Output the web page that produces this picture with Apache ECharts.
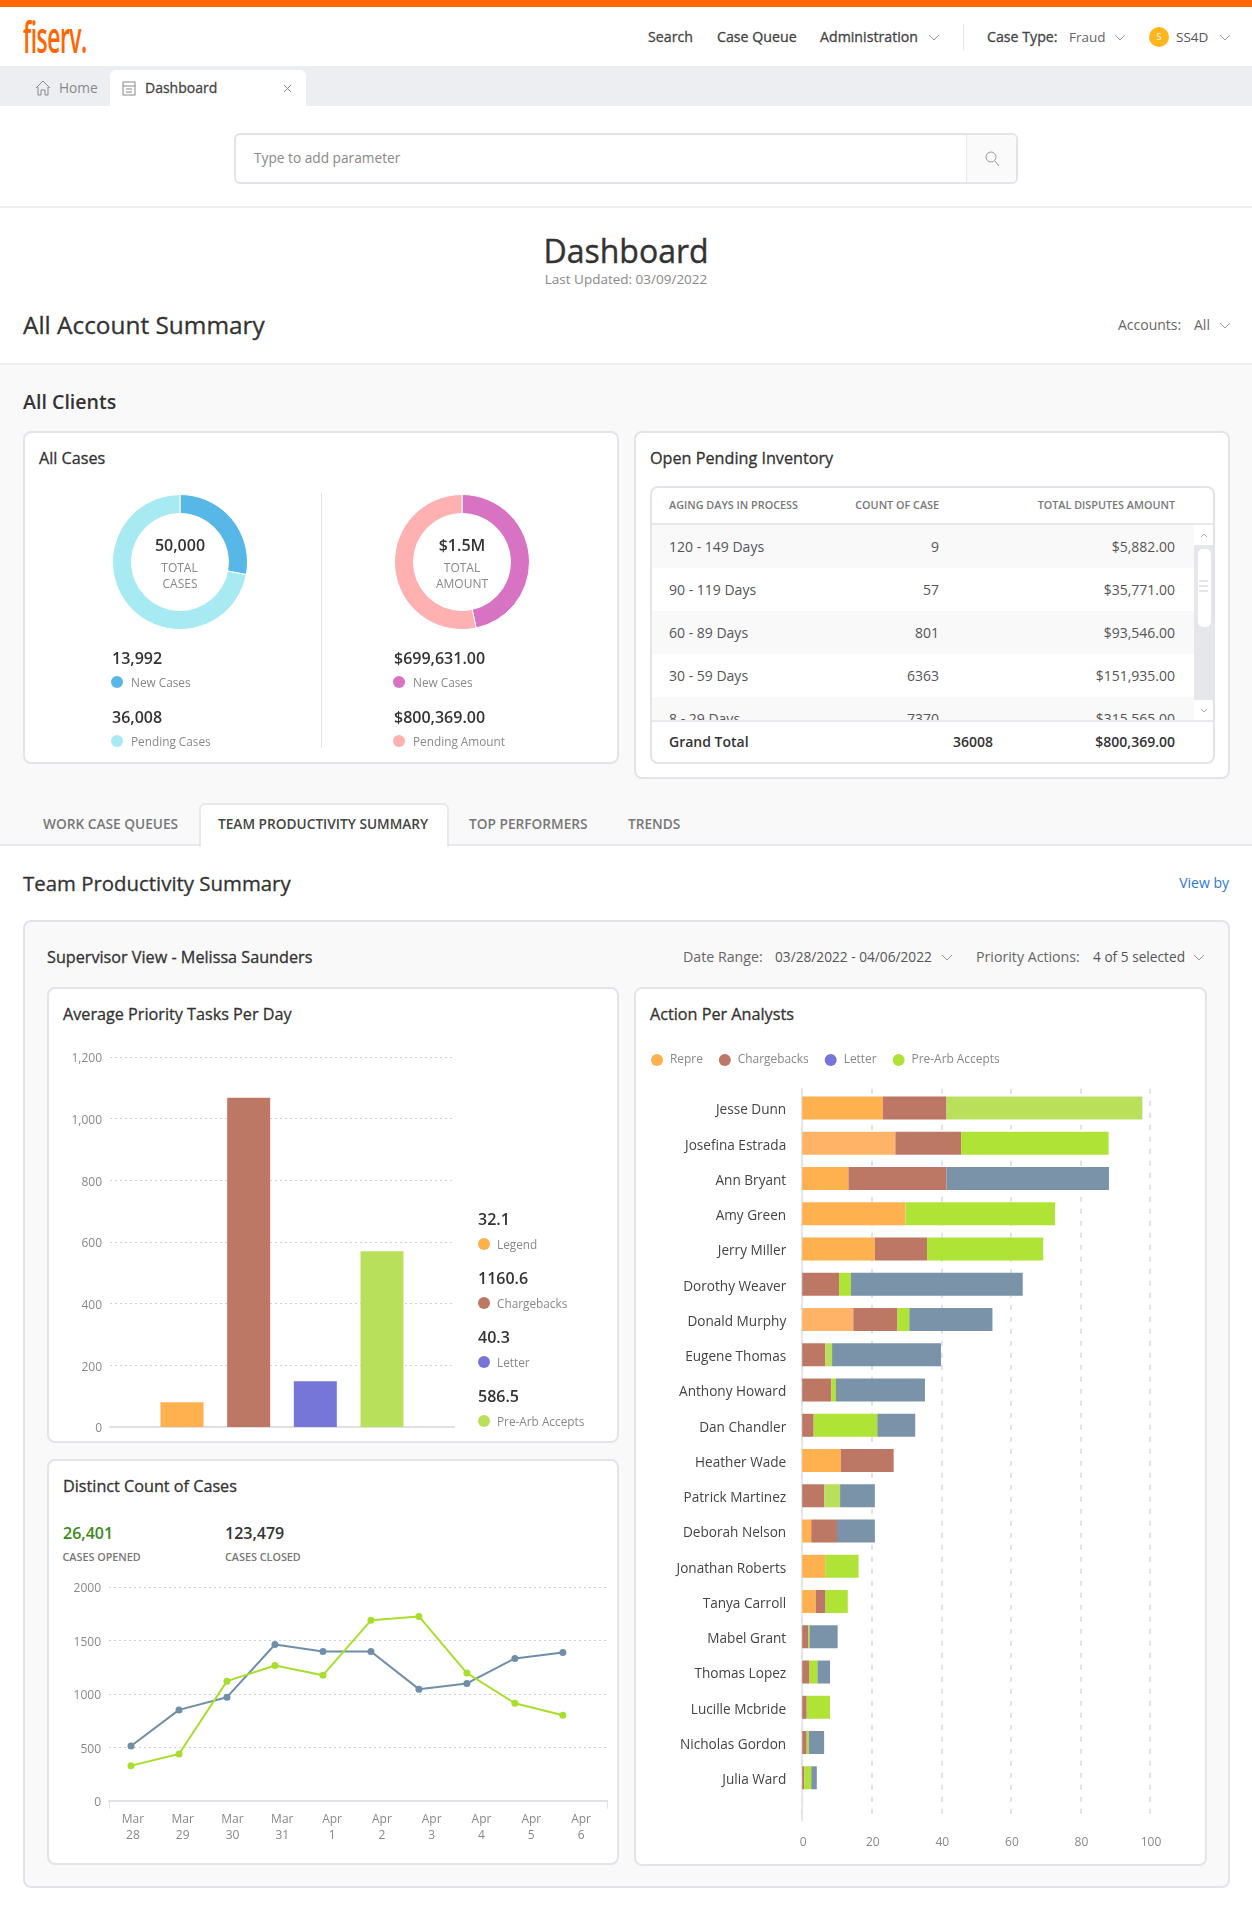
<!DOCTYPE html>
<html>
<head>
<meta charset="utf-8">
<title>Dashboard</title>
<script src="https://cdn.jsdelivr.net/npm/echarts@6/dist/echarts.min.js"></script>
<style>
html, body { margin: 0; padding: 0; background: #fff; }
#page { position: relative; width: 1252px; height: 1912px; overflow: hidden; font-family: "Open Sans", sans-serif; color: #333; }
.box { position: absolute; box-sizing: border-box; }
.card { position: absolute; box-sizing: border-box; background: #fff; border: 2px solid #e3e4ea; border-radius: 8px; }
.t { position: absolute; white-space: nowrap; transform: translateY(-50%); line-height: 1.2; }
.r { transform: translate(-100%, -50%); }
.c { transform: translate(-50%, -50%); text-align: center; }
.dot { position: absolute; width: 12px; height: 12px; border-radius: 50%; transform: translateY(-50%); }
.chart { position: absolute; }
svg { position: absolute; overflow: visible; fill: none; }
.h { font-size: 16.2px; font-weight: 400; color: #333; -webkit-text-stroke: .3px #333; }
.big { font-size: 16px; font-weight: 600; color: #333; }
.small { font-size: 11.8px; color: #888; }
.nav { font-size: 14.2px; font-weight: 400; color: #444; -webkit-text-stroke: .3px #444; }
.tab { font-size: 13.7px; font-weight: 600; color: #777; }
.head { font-size: 10.8px; font-weight: 600; color: #777; }
.sub { font-size: 14px; color: #666; }
</style>
</head>
<body>
<div id="page">
    <!-- top bar -->
    <div class="box" style="left:0;top:0;width:1252px;height:7px;background:#ff6600"></div>
    <div class="t" style="left:23px;top:36px;font-size:44px;font-weight:600;color:#ff6600;transform:translateY(-50%) scaleX(.52);transform-origin:left center;letter-spacing:-1px">fiserv.</div>
    <div class="t nav" style="left:648px;top:37px">Search</div>
    <div class="t nav" style="left:717px;top:37px">Case Queue</div>
    <div class="t nav" style="left:820px;top:37px">Administration</div>
    <svg style="left:928px;top:34px" width="12" height="7"><polyline points="1,1 6,6 11,1" stroke="#999"/></svg>
    <div class="box" style="left:963px;top:24px;width:1px;height:26px;background:#e3e4ea"></div>
    <div class="t nav" style="left:987px;top:37px">Case Type:</div>
    <div class="t" style="left:1069px;top:37px;font-size:13.5px;color:#666">Fraud</div>
    <svg style="left:1114px;top:34px" width="12" height="7"><polyline points="1,1 6,6 11,1" stroke="#999"/></svg>
    <div class="box" style="left:1149px;top:27px;width:20px;height:20px;border-radius:50%;background:#ffb61e"></div>
    <div class="t c" style="left:1159px;top:37px;font-size:9px;color:#fff">S</div>
    <div class="t" style="left:1176px;top:37px;font-size:13.5px;color:#555">SS4D</div>
    <svg style="left:1219px;top:34px" width="12" height="7"><polyline points="1,1 6,6 11,1" stroke="#999"/></svg>

    <!-- page tabs -->
    <div class="box" style="left:0;top:66px;width:1252px;height:40px;background:#edeef1"></div>
    <div class="box" style="left:110px;top:70px;width:196px;height:36px;background:#fff;border-radius:6px 6px 0 0"></div>
    <svg style="left:35px;top:80px" width="16" height="16"><path d="M1 8 L8 1 L15 8 M3 7 V15 H6 V10 H10 V15 H13 V7" stroke="#888"/></svg>
    <div class="t" style="left:59px;top:88px;font-size:13.7px;color:#888">Home</div>
    <svg style="left:122px;top:81px" width="14" height="15"><rect x="1" y="1" width="12" height="13" stroke="#888"/><path d="M1 5 H13 M4 8 H10 M4 11 H10" stroke="#888"/></svg>
    <div class="t nav" style="left:145px;top:88px;font-size:14px">Dashboard</div>
    <svg style="left:283px;top:84px" width="9" height="9"><path d="M1 1 L8 8 M8 1 L1 8" stroke="#888"/></svg>

    <!-- search -->
    <div class="box" style="left:234px;top:133px;width:784px;height:51px;border:2px solid #e3e4ea;border-radius:6px;background:#fff"></div>
    <div class="box" style="left:966px;top:135px;width:50px;height:47px;border-left:1px solid #e8e9ee;background:#fafafb;border-radius:0 5px 5px 0"></div>
    <div class="t" style="left:254px;top:158px;font-size:13.7px;color:#888">Type to add parameter</div>
    <svg style="left:985px;top:151px" width="15" height="16"><circle cx="6" cy="6" r="5" stroke="#999"/><path d="M10 10 L14 15" stroke="#999"/></svg>
    <div class="box" style="left:0;top:206px;width:1252px;height:2px;background:#eeeef1"></div>

    <!-- heading -->
    <div class="t c" style="left:626px;top:251px;font-size:32px;color:#333;-webkit-text-stroke:.4px #333">Dashboard</div>
    <div class="t c" style="left:626px;top:279px;font-size:13.5px;color:#888">Last Updated: 03/09/2022</div>
    <div class="t" style="left:23px;top:325px;font-size:24.4px;color:#333;-webkit-text-stroke:.3px #333">All Account Summary</div>
    <div class="t sub" style="left:1118px;top:325px">Accounts:</div>
    <div class="t sub" style="left:1194px;top:325px">All</div>
    <svg style="left:1219px;top:322px" width="12" height="7"><polyline points="1,1 6,6 11,1" stroke="#999"/></svg>

    <!-- all clients band -->
    <div class="box" style="left:0;top:363px;width:1252px;height:483px;background:#f9f9fa;border-top:2px solid #eeeef1;border-bottom:2px solid #e8e9ee"></div>
    <div class="t" style="left:23px;top:402px;font-size:19.6px;font-weight:600;color:#333">All Clients</div>

    <div class="card" style="left:23px;top:431px;width:596px;height:333px"></div>
    <div class="t h" style="left:39px;top:459px">All Cases</div>
    <div class="box" style="left:321px;top:493px;width:1px;height:255px;background:#e3e4ea"></div>
    <div id="donutCases" class="chart" style="left:100px;top:482px;width:160px;height:160px"></div>
    <div id="donutAmount" class="chart" style="left:382px;top:482px;width:160px;height:160px"></div>
    <div class="t c" style="left:180px;top:546px;font-size:16px;font-weight:600" id="casesTotal"></div>
    <div class="t c small" style="left:179.5px;top:568px;font-size:12px">TOTAL</div>
    <div class="t c small" style="left:180px;top:584px;font-size:12px">CASES</div>
    <div class="t c" style="left:462px;top:546px;font-size:16px;font-weight:600" id="amountTotal"></div>
    <div class="t c small" style="left:462px;top:568px;font-size:12px">TOTAL</div>
    <div class="t c small" style="left:462px;top:584px;font-size:12px">AMOUNT</div>
    <div id="donutLegends"></div>

    <div class="card" style="left:634px;top:431px;width:596px;height:348px"></div>
    <div class="t h" style="left:650px;top:459px">Open Pending Inventory</div>
    <div class="box" style="left:650px;top:486px;width:565px;height:278px;background:#fff;border:2px solid #e3e4ea;border-radius:8px"></div>
    <div class="t head" style="left:669px;top:505px">AGING DAYS IN PROCESS</div>
    <div class="t r head" style="left:939px;top:505px">COUNT OF CASE</div>
    <div class="t r head" style="left:1175px;top:505px">TOTAL DISPUTES AMOUNT</div>
    <div class="box" style="left:652px;top:523px;width:561px;height:2px;background:#e8e9ee"></div>
    <div id="tableBody" class="box" style="left:652px;top:525px;width:542px;height:195px;overflow:hidden"></div>
    <div class="box" style="left:1194px;top:525px;width:19px;height:195px;background:#fff"></div>
    <div class="box" style="left:1194px;top:545px;width:19px;height:155px;background:#e6e7ea"></div>
    <div class="box" style="left:1198px;top:549px;width:13px;height:78px;background:#fff;border-radius:5px"></div>
    <svg style="left:1199px;top:580px" width="10" height="14"><path d="M0 1 H9 M0 6 H9 M0 11 H9" stroke="#ccc"/></svg>
    <svg style="left:1200px;top:533px" width="8" height="5"><polyline points="1,4 4,1 7,4" stroke="#aaa"/></svg>
    <svg style="left:1200px;top:708px" width="8" height="5"><polyline points="1,1 4,4 7,1" stroke="#aaa"/></svg>
    <div class="box" style="left:652px;top:720px;width:561px;height:2px;background:#e8e9ee"></div>
    <div class="t" style="left:669px;top:742px;font-size:14px;font-weight:600">Grand Total</div>
    <div class="t r" style="left:993px;top:742px;font-size:14px;font-weight:600" id="grandCount"></div>
    <div class="t r" style="left:1175px;top:742px;font-size:14px;font-weight:600" id="grandAmount"></div>

    <!-- section tabs -->
    <div class="box" style="left:199px;top:803px;width:250px;height:44px;background:#fff;border:2px solid #e8e9ee;border-bottom:none;border-radius:6px 6px 0 0"></div>
    <div class="t tab" style="left:43px;top:824px">WORK CASE QUEUES</div>
    <div class="t tab" style="left:218px;top:824px;color:#444">TEAM PRODUCTIVITY SUMMARY</div>
    <div class="t tab" style="left:469px;top:824px">TOP PERFORMERS</div>
    <div class="t tab" style="left:628px;top:824px">TRENDS</div>

    <div class="t" style="left:23px;top:883px;font-size:20.4px;color:#333;-webkit-text-stroke:.3px #333">Team Productivity Summary</div>
    <div class="t r" style="left:1229px;top:883px;font-size:14px;color:#2a78d2">View by</div>

    <!-- supervisor panel -->
    <div class="box" style="left:23px;top:920px;width:1207px;height:968px;background:#f9f9fa;border:2px solid #e3e4ea;border-radius:8px"></div>
    <div class="t h" style="left:47px;top:958px">Supervisor View - Melissa Saunders</div>
    <div class="t sub" style="left:683px;top:957px;font-size:14.2px">Date Range:</div>
    <div class="t" style="left:775px;top:957px;font-size:13.7px;color:#555">03/28/2022 - 04/06/2022</div>
    <svg style="left:941px;top:954px" width="12" height="7"><polyline points="1,1 6,6 11,1" stroke="#999"/></svg>
    <div class="t sub" style="left:976px;top:957px;font-size:14.2px">Priority Actions:</div>
    <div class="t" style="left:1093px;top:957px;font-size:13.7px;color:#555">4 of 5 selected</div>
    <svg style="left:1193px;top:954px" width="12" height="7"><polyline points="1,1 6,6 11,1" stroke="#999"/></svg>

    <div class="card" style="left:47px;top:987px;width:572px;height:456px"></div>
    <div class="t h" style="left:63px;top:1015px">Average Priority Tasks Per Day</div>
    <div id="tasksChart" class="chart" style="left:47px;top:987px;width:571px;height:455px"></div>
    <div id="tasksLegend"></div>

    <div class="card" style="left:47px;top:1459px;width:572px;height:406px"></div>
    <div class="t h" style="left:63px;top:1487px">Distinct Count of Cases</div>
    <div class="t big" style="left:63px;top:1534px;color:#3a8a1a">26,401</div>
    <div class="t head" style="left:62.5px;top:1557px">CASES OPENED</div>
    <div class="t big" style="left:225px;top:1534px">123,479</div>
    <div class="t head" style="left:225px;top:1557px">CASES CLOSED</div>
    <div id="casesChart" class="chart" style="left:47px;top:1459px;width:571px;height:405px"></div>

    <div class="card" style="left:634px;top:987px;width:573px;height:879px"></div>
    <div class="t h" style="left:650px;top:1015px">Action Per Analysts</div>
    <div id="analystChart" class="chart" style="left:635px;top:987px;width:571px;height:878px"></div>
</div>

<script>
// donuts
const caseNames = ['New Cases', 'Pending Cases'];
const caseValues = [13992, 36008];
const amountNames = ['New Cases', 'Pending Amount'];
const amountValues = [699631, 800369];

// inventory table
const agingDays = ['120 - 149 Days', '90 - 119 Days', '60 - 89 Days', '30 - 59 Days', '8 - 29 Days'];
const caseCounts = [9, 57, 801, 6363, 7370];
const disputeAmounts = ['$5,882.00', '$35,771.00', '$93,546.00', '$151,935.00', '$315,565.00'];

// average priority tasks
const taskNames = ['Legend', 'Chargebacks', 'Letter', 'Pre-Arb Accepts'];
const taskBars = [80, 1068, 148, 570];
const taskLabels = ['32.1', '1160.6', '40.3', '586.5'];

// distinct count of cases
const caseDays = ['Mar\n28', 'Mar\n29', 'Mar\n30', 'Mar\n31', 'Apr\n1', 'Apr\n2', 'Apr\n3', 'Apr\n4', 'Apr\n5', 'Apr\n6'];
const casesOpened = [512, 850, 969, 1462, 1397, 1397, 1044, 1097, 1331, 1387];
const casesClosed = [328, 437, 1119, 1266, 1175, 1688, 1725, 1194, 912, 800];

// action per analysts
const analysts = ['Jesse Dunn', 'Josefina Estrada', 'Ann Bryant', 'Amy Green', 'Jerry Miller', 'Dorothy Weaver', 'Donald Murphy', 'Eugene Thomas', 'Anthony Howard', 'Dan Chandler', 'Heather Wade', 'Patrick Martinez', 'Deborah Nelson', 'Jonathan Roberts', 'Tanya Carroll', 'Mabel Grant', 'Thomas Lopez', 'Lucille Mcbride', 'Nicholas Gordon', 'Julia Ward'];
const repre = [23.2, 26.8, 13.3, 29.7, 20.9, 0, 14.7, 0, 0, 0, 11.1, 0, 2.6, 6.6, 3.9, 0, 0, 0, 0, 0];
const chargebacks = [18.3, 18.9, 28.2, 0, 15, 10.6, 12.7, 6.6, 8.4, 3.3, 15.2, 6.4, 7.4, 0, 2.8, 1.7, 2.1, 1.3, 1.3, 0.6];
const preArb = [56.3, 42.4, 0, 43, 33.4, 3.4, 3.4, 2, 1.3, 18.3, 0, 4.5, 0, 9.6, 6.4, 0.4, 2.3, 6.7, 0.6, 2];
const letter = [0, 0, 46.7, 0, 0, 49.4, 23.9, 31.3, 25.6, 10.9, 0, 10, 10.9, 0, 0, 8.1, 3.6, 0, 4.4, 1.6];

const font = '"Open Sans", sans-serif';
const gridColor = '#cfd0d6';
const dashColor = '#d8d9df';
const axisColor = '#e0e1e6';
const labelColor = '#888';
const colorOrange = '#ffb04f';
const colorBrown = '#bc7864';
const colorPurple = '#7676d8';
const colorGreen = '#afe336';
const colorPaleGreen = '#bae05b';
const colorSlate = '#7a93a8';

function el(parent, cls, style, text) {
    let d = document.createElement('div');
    d.className = cls;
    d.style.cssText = style;
    if (text !== undefined) d.textContent = text;
    parent.appendChild(d);
    return d;
}

// text around the donuts
document.getElementById('casesTotal').textContent = '50,000';
document.getElementById('amountTotal').textContent = '$1.5M';
const donutLegends = document.getElementById('donutLegends');
function donutLegend(x, y, value, name, color) {
    el(donutLegends, 't big', 'left:' + x + 'px;top:' + (y + 1) + 'px', value);
    el(donutLegends, 'dot', 'left:' + (x - 1) + 'px;top:' + (y + 24) + 'px;background:' + color);
    el(donutLegends, 't small', 'left:' + (x + 19) + 'px;top:' + (y + 24) + 'px', name);
}
donutLegend(112, 658, caseValues[0].toLocaleString('en-US'), caseNames[0], '#57b7e6');
donutLegend(112, 717, caseValues[1].toLocaleString('en-US'), caseNames[1], '#a8eaf2');
donutLegend(394, 658, '$' + amountValues[0].toLocaleString('en-US') + '.00', amountNames[0], '#d873c4');
donutLegend(394, 717, '$' + amountValues[1].toLocaleString('en-US') + '.00', amountNames[1], '#ffb0b0');

function drawDonut(id, names, values, colors) {
    let chart = echarts.init(document.getElementById(id));
    chart.setOption({
        animation: false,
        series: [{
            type: 'pie',
            radius: [48.5, 67.5],
            center: [80, 80],
            startAngle: 90,
            silent: true,
            label: { show: false },
            itemStyle: { borderColor: '#fff', borderWidth: 1 },
            data: values.map((v, i) => ({ name: names[i], value: v, itemStyle: { color: colors[i] } }))
        }]
    });
}
drawDonut('donutCases', caseNames, caseValues, ['#57b7e6', '#a8eaf2']);
drawDonut('donutAmount', amountNames, amountValues, ['#d873c4', '#ffb0b0']);

// inventory rows
const tableBody = document.getElementById('tableBody');
agingDays.forEach((name, i) => {
    let row = el(tableBody, 'box', 'left:0;top:' + (i * 43.1) + 'px;width:542px;height:43.1px;background:' + (i % 2 === 0 ? '#f9f9fa' : '#fff'));
    el(row, 't', 'left:17px;top:50%;font-size:14px;color:#555', name);
    el(row, 't r', 'left:287px;top:50%;font-size:14px;color:#555', caseCounts[i]);
    el(row, 't r', 'left:523px;top:50%;font-size:14px;color:#555', disputeAmounts[i]);
});
document.getElementById('grandCount').textContent = '36008';
document.getElementById('grandAmount').textContent = '$800,369.00';

// average priority tasks, bars sit on an index axis so they clear the grid ends
const taskColors = [colorOrange, colorBrown, colorPurple, '#b9e05a'];
const tasksLegend = document.getElementById('tasksLegend');
taskNames.forEach((name, i) => {
    let y = 1220 + i * 59;
    el(tasksLegend, 't big', 'left:478px;top:' + y + 'px', taskLabels[i]);
    el(tasksLegend, 'dot', 'left:478px;top:' + (y + 24) + 'px;background:' + taskColors[i]);
    el(tasksLegend, 't small', 'left:497px;top:' + (y + 24) + 'px', name);
});
let tasksChart = echarts.init(document.getElementById('tasksChart'));
tasksChart.setOption({
    animation: false,
    grid: { left: 63, top: 70, width: 344, height: 370 },
    xAxis: {
        type: 'value', min: -1.08, max: 4.08,
        axisLabel: { show: false }, axisTick: { show: false }, splitLine: { show: false },
        axisLine: { show: true, onZero: false, lineStyle: { color: axisColor, width: 2 } }
    },
    yAxis: {
        type: 'value', min: 0, max: 1200, interval: 200,
        axisLine: { show: false }, axisTick: { show: false },
        // top alignment with a short line box sits the text just under the gridline
        axisLabel: { color: labelColor, fontSize: 12, fontFamily: font, margin: 8, verticalAlign: 'top', lineHeight: 4, formatter: v => v.toLocaleString('en-US') },
        splitLine: { lineStyle: { color: gridColor, type: [2, 3] } }
    },
    series: [{
        type: 'bar',
        barWidth: 43,
        silent: true,
        data: taskBars.map((v, i) => ({ value: [i, v], itemStyle: { color: taskColors[i] } }))
    }]
});

// distinct count of cases, the labelled axis and the plotted points have different spacing
const pointMin = -0.459;
const pointMax = 9.92;
let casesChart = echarts.init(document.getElementById('casesChart'));
casesChart.setOption({
    animation: false,
    grid: { left: 62, top: 128, width: 498, height: 213.7 },
    xAxis: [{
        type: 'category',
        data: caseDays,
        axisLine: { lineStyle: { color: axisColor, width: 2 } },
        axisTick: { alignWithLabel: true, length: 8, lineStyle: { color: axisColor } },
        axisLabel: { color: labelColor, fontSize: 12, fontFamily: font, lineHeight: 16, margin: 11, interval: 0, padding: [0, 2, 0, 0] }
    }, {
        type: 'value', min: pointMin, max: pointMax, position: 'bottom',
        axisLine: { show: false }, axisLabel: { show: false }, splitLine: { show: false },
        axisTick: { show: true, length: 8, customValues: [pointMin, pointMax], lineStyle: { color: axisColor } }
    }],
    yAxis: {
        type: 'value', min: 0, max: 2000, interval: 500,
        axisLine: { show: false }, axisTick: { show: false },
        axisLabel: { color: labelColor, fontSize: 12, fontFamily: font, margin: 8, verticalAlign: 'top', lineHeight: 4, formatter: v => String(v) },
        splitLine: { lineStyle: { color: gridColor, type: [2, 3] } }
    },
    series: [{
        type: 'line', xAxisIndex: 1, symbol: 'circle', symbolSize: 7, silent: true,
        lineStyle: { color: '#6f8fa8', width: 2 }, itemStyle: { color: '#6f8fa8' },
        data: casesOpened.map((v, i) => [i, v])
    }, {
        type: 'line', xAxisIndex: 1, symbol: 'circle', symbolSize: 7, silent: true,
        lineStyle: { color: '#a8de2c', width: 2 }, itemStyle: { color: '#a8de2c' },
        data: casesClosed.map((v, i) => [i, v])
    }]
});

// action per analysts
const paleOrange = ['Josefina Estrada', 'Donald Murphy'];
const paleGreen = ['Jesse Dunn', 'Eugene Thomas', 'Patrick Martinez'];
function stackBars(name, values, colorOf) {
    return {
        name: name, type: 'bar', stack: 'actions', barWidth: 23, silent: true,
        xAxisIndex: 0, yAxisIndex: 0,
        itemStyle: { color: colorOf('') },
        data: values.map((v, i) => ({ value: v, itemStyle: { color: colorOf(analysts[i]) } }))
    };
}
let analystChart = echarts.init(document.getElementById('analystChart'));
analystChart.setOption({
    animation: false,
    legend: {
        left: 11, top: 62, icon: 'circle', itemWidth: 12, itemHeight: 12, itemGap: 16, selectedMode: false,
        textStyle: { color: labelColor, fontSize: 11.9, fontFamily: font, padding: [0, 0, 0, 2] },
        data: [
            { name: 'Repre', itemStyle: { color: colorOrange } },
            { name: 'Chargebacks', itemStyle: { color: colorBrown } },
            { name: 'Letter', itemStyle: { color: colorPurple } },
            { name: 'Pre-Arb Accepts', itemStyle: { color: colorGreen } }
        ]
    },
    grid: [
        { left: 167.2, top: 103.4, width: 347.8, height: 705 },
        { left: 167.2, top: 101.7, width: 347.8, height: 732 }
    ],
    xAxis: [{
        gridIndex: 0, type: 'value', min: 0, max: 100, show: false
    }, {
        gridIndex: 1, type: 'value', min: 0, max: 100, interval: 20,
        axisLine: { show: false }, axisTick: { show: false },
        axisLabel: { color: labelColor, fontSize: 12, fontFamily: font, margin: 14, padding: [2, 0, 0, 2] },
        splitLine: { lineStyle: { color: dashColor, width: 1.5, type: [5, 7] } }
    }],
    yAxis: [{
        gridIndex: 0, type: 'category', inverse: true, data: analysts,
        axisLine: { show: false }, axisTick: { show: false },
        axisLabel: { color: '#444', fontSize: 13.6, fontFamily: font, margin: 16, interval: 0, verticalAlign: 'top', lineHeight: 5 }
    }, {
        gridIndex: 1, type: 'value', min: 0, max: 1,
        axisLabel: { show: false }, axisTick: { show: false }, splitLine: { show: false },
        axisLine: { show: true, lineStyle: { color: axisColor, width: 1.5 } }
    }],
    series: [
        stackBars('Repre', repre, n => paleOrange.includes(n) ? '#ffb366' : colorOrange),
        stackBars('Chargebacks', chargebacks, () => colorBrown),
        stackBars('Pre-Arb Accepts', preArb, n => paleGreen.includes(n) ? colorPaleGreen : colorGreen),
        stackBars('Letter', letter, () => colorSlate)
    ]
});
</script>
</body>
</html>
